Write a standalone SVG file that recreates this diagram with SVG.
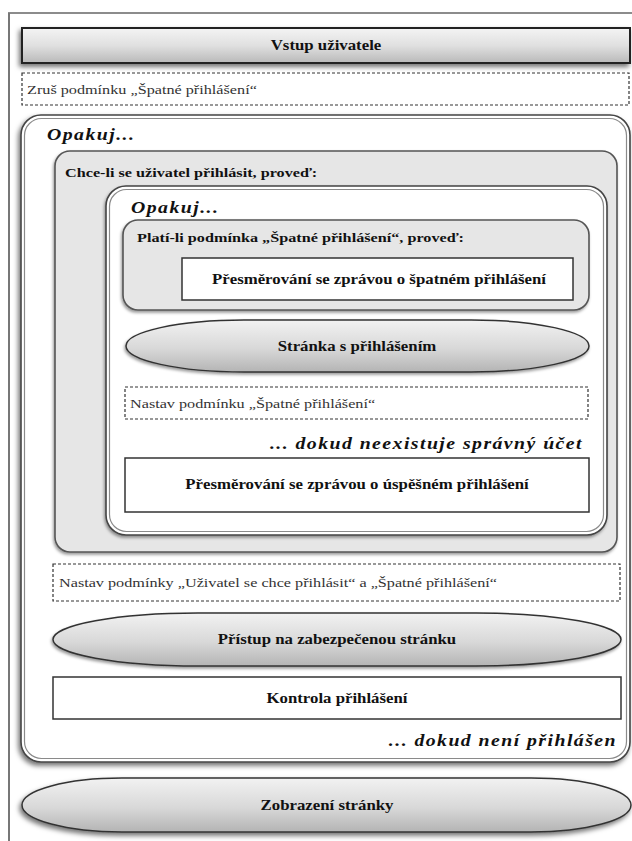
<svg xmlns="http://www.w3.org/2000/svg" width="632" height="841" viewBox="0 0 632 841">
<defs>
<linearGradient id="gBar" x1="0" y1="0" x2="0" y2="1">
<stop offset="0" stop-color="#f4f4f4"/>
<stop offset="0.5" stop-color="#e0e0e0"/>
<stop offset="1" stop-color="#b9b9b9"/>
</linearGradient>
<linearGradient id="gEll" x1="0" y1="0" x2="0" y2="1">
<stop offset="0" stop-color="#f2f2f2"/>
<stop offset="0.55" stop-color="#d8d8d8"/>
<stop offset="1" stop-color="#b4b4b4"/>
</linearGradient>
<filter id="sh" x="-5%" y="-30%" width="110%" height="170%">
<feDropShadow dx="-2" dy="3" stdDeviation="2.5" flood-color="#000" flood-opacity="0.55"/>
</filter>
<filter id="shs" x="-5%" y="-10%" width="110%" height="125%">
<feDropShadow dx="-1" dy="2" stdDeviation="1.5" flood-color="#000" flood-opacity="0.4"/>
</filter>
</defs>
<style>
.t{font-family:"Liberation Serif","Times New Roman",serif;fill:#111;}
.b{font-weight:bold;font-size:14px;}
.h{font-weight:bold;font-size:13.5px;}
.r{font-size:13.5px;fill:#333;}
.bi{font-weight:bold;font-style:italic;font-size:16.5px;letter-spacing:1.2px;}
.dash{fill:#fff;stroke:#333;stroke-width:1.2;stroke-dasharray:3 2;}
.box{fill:#fff;stroke:#333;stroke-width:1.5;}
.grey{fill:#e6e6e6;stroke:#555;stroke-width:1.6;}
.dbo{fill:#fff;stroke:#444;stroke-width:1.6;}
.dbi{fill:none;stroke:#8a8a8a;stroke-width:1.2;}
.ell{fill:url(#gEll);stroke:#333;stroke-width:1.5;}
</style>

<g id="frame">
<line x1="8" y1="13" x2="632" y2="13" stroke="#666" stroke-width="1.5"/>
<line x1="9" y1="13" x2="9" y2="841" stroke="#777" stroke-width="2"/>
</g>

<g id="vstup">
<rect x="22" y="28" width="608" height="35" fill="url(#gBar)" stroke="#222" stroke-width="2" filter="url(#sh)"/>
<text class="t b" text-anchor="middle" transform="translate(326,50) scale(1.2,1)">Vstup uživatele</text>
</g>

<g id="zrus">
<rect class="dash" x="22" y="73" width="607" height="32"/>
<text class="t r" transform="translate(27,94) scale(1.2,1)">Zruš podmínku „Špatné přihlášení“</text>
</g>

<g id="loop-outer">
<rect class="dbo" x="21" y="115" width="609" height="647" rx="20" ry="20" filter="url(#sh)"/>
<rect class="dbi" x="24.5" y="118.5" width="602" height="640" rx="17" ry="17"/>
<text class="t bi" transform="translate(47,140) scale(1.2,1)">Opakuj...</text>
<text class="t bi" text-anchor="end" transform="translate(617,746) scale(1.2,1)">... dokud není přihlášen</text>
</g>

<g id="if-login">
<rect class="grey" x="55" y="151" width="562" height="401" rx="15" ry="15" filter="url(#shs)"/>
<text class="t h" transform="translate(65,177) scale(1.2,1)">Chce-li se uživatel přihlásit, proveď:</text>
</g>

<g id="loop-inner">
<rect class="dbo" x="106" y="186" width="501" height="349" rx="20" ry="20" filter="url(#shs)"/>
<rect class="dbi" x="109.5" y="189.5" width="494" height="342" rx="17" ry="17"/>
<text class="t bi" transform="translate(131,213) scale(1.2,1)">Opakuj...</text>
<text class="t bi" text-anchor="end" transform="translate(583,449) scale(1.2,1)">... dokud neexistuje správný účet</text>
</g>

<g id="if-bad">
<rect class="grey" x="123" y="220" width="466" height="90" rx="15" ry="15" filter="url(#shs)"/>
<text class="t h" transform="translate(137,242) scale(1.2,1)">Platí-li podmínka „Špatné přihlášení“, proveď:</text>
</g>

<g id="redirect-bad">
<rect class="box" x="182" y="258" width="391" height="42"/>
<text class="t b" text-anchor="middle" transform="translate(379,284) scale(1.2,1)">Přesměrování se zprávou o špatném přihlášení</text>
</g>

<g id="login-page">
<rect class="ell" x="126" y="320" width="463" height="52" rx="118" ry="26" filter="url(#shs)"/>
<text class="t b" text-anchor="middle" transform="translate(357,351) scale(1.2,1)">Stránka s přihlášením</text>
</g>

<g id="set-bad">
<rect class="dash" x="125" y="387" width="463" height="32"/>
<text class="t r" transform="translate(130,408) scale(1.2,1)">Nastav podmínku „Špatné přihlášení“</text>
</g>

<g id="redirect-ok">
<rect class="box" x="125" y="458" width="464" height="54"/>
<text class="t b" text-anchor="middle" transform="translate(357,489) scale(1.2,1)">Přesměrování se zprávou o úspěšném přihlášení</text>
</g>

<g id="set-both">
<rect class="dash" x="53" y="564" width="567" height="37"/>
<text class="t r" transform="translate(59,587) scale(1.2,1)">Nastav podmínky „Uživatel se chce přihlásit“ a „Špatné přihlášení“</text>
</g>

<g id="secure-access">
<rect class="ell" x="53" y="613" width="568" height="53" rx="145" ry="26.5" filter="url(#shs)"/>
<text class="t b" text-anchor="middle" transform="translate(337,644) scale(1.2,1)">Přístup na zabezpečenou stránku</text>
</g>

<g id="check-login">
<rect class="box" x="53" y="677" width="568" height="42"/>
<text class="t b" text-anchor="middle" transform="translate(337,703) scale(1.2,1)">Kontrola přihlášení</text>
</g>

<g id="show-page">
<rect class="ell" x="22" y="778" width="609" height="54" rx="100" ry="27" filter="url(#sh)"/>
<text class="t b" text-anchor="middle" transform="translate(327,810) scale(1.2,1)">Zobrazení stránky</text>
</g>
</svg>
